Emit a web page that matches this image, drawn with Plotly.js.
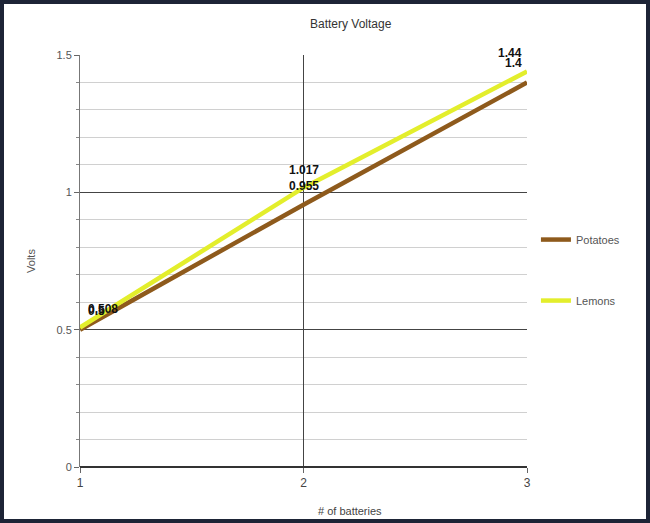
<!DOCTYPE html>
<html>
<head>
<meta charset="utf-8">
<script src="https://cdn.plot.ly/plotly-3.0.1.min.js"></script>
<style>
html,body{margin:0;padding:0;background:#1d2436;width:650px;height:523px;overflow:hidden;}
#chart{position:absolute;left:4px;top:4px;width:642px;height:515px;background:#fff;overflow:hidden;}
</style>
</head>
<body>
<div id="chart"></div>
<script>
const batteries = [1, 2, 3];
const potatoes = [0.5, 0.955, 1.4];
const lemons = [0.508, 1.017, 1.44];
const potatoLabels = ['0.5', '0.955', '1.4'];
const lemonLabels = ['0.508', '1.017', '1.44'];
const yTicks = [0, 0.5, 1, 1.5];
const yTickLabels = ['0', '0.5', '1', '1.5'];
const xTicks = [1, 2, 3];

const labelFont = {family: 'Liberation Sans, Arial, sans-serif', size: 12, color: '#111', weight: 'bold'};

const traces = [
  {
    x: batteries, y: potatoes, name: 'Potatoes', legendgroup: 'p',
    mode: 'lines', line: {color: '#8E5A1C', width: 4.5}, cliponaxis: false
  },
  {
    x: batteries, y: lemons, name: 'Lemons', legendgroup: 'l',
    mode: 'lines', line: {color: '#E3EE2C', width: 4.5}, cliponaxis: false
  }
];

const anchors = ['left', 'center', 'right'];
const xshifts = [6, 0, -3];
const labelAnnots = [];
[[potatoes, potatoLabels, 19], [lemons, lemonLabels, 18]].forEach(([vals, labels, ys]) => {
  batteries.forEach((b, i) => {
    labelAnnots.push({
      x: b, y: vals[i], xref: 'x', yref: 'y', text: labels[i], showarrow: false,
      xanchor: anchors[i], yanchor: 'middle', xshift: xshifts[i], yshift: ys,
      font: labelFont
    });
  });
});

const layout = {
  width: 642, height: 515,
  paper_bgcolor: '#ffffff', plot_bgcolor: '#ffffff',
  margin: {l: 76, r: 119, t: 51, b: 52},
  font: {family: 'Liberation Sans, Arial, sans-serif', size: 11, color: '#555'},
  title: {text: 'Battery Voltage', font: {size: 12, color: '#333'}, x: 0.54, xref: 'container', xanchor: 'center', y: 0.962, yref: 'container', yanchor: 'middle'},
  xaxis: {
    range: [1, 3], tickvals: xTicks, ticktext: xTicks.map(String),
    showgrid: true, gridcolor: '#444', gridwidth: 1,
    zeroline: false, showline: false,
    ticks: 'outside', ticklen: 5, tickcolor: '#666',
    tickfont: {size: 12, color: '#444'}, fixedrange: true
  },
  yaxis: {
    range: [0, 1.5], tickvals: yTicks, ticktext: yTickLabels,
    showgrid: true, gridcolor: '#444', gridwidth: 1,
    minor: {dtick: 0.1, showgrid: true, gridcolor: '#d0d0d0', ticks: 'outside', ticklen: 3, tickcolor: '#888'},
    zeroline: true, zerolinecolor: '#333', zerolinewidth: 2,
    showline: true, linecolor: '#777', linewidth: 1,
    ticks: 'outside', ticklen: 5, tickcolor: '#666',
    tickfont: {size: 11, color: '#555'},
    title: {text: 'Volts', font: {size: 11, color: '#555'}, standoff: 18}
  },
  showlegend: true,
  legend: {x: 1.02, xanchor: 'left', y: 0.478, yanchor: 'middle', tracegroupgap: 42, font: {size: 11, color: '#555'}, bgcolor: 'rgba(0,0,0,0)'},
  annotations: labelAnnots.concat([
    {text: '# of batteries', xref: 'paper', yref: 'paper', x: 0.605, y: -0.108, xanchor: 'center', yanchor: 'middle', showarrow: false, font: {size: 11, color: '#444'}}
  ])
};

Plotly.newPlot('chart', traces, layout, {displayModeBar: false, staticPlot: true});
</script>
</body>
</html>
